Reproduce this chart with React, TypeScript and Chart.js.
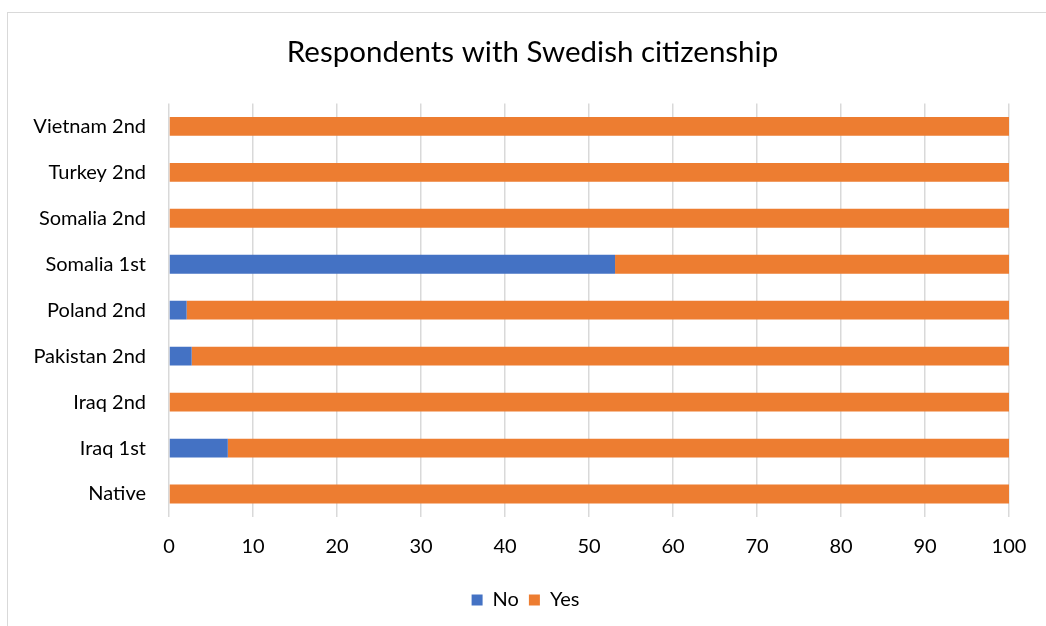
import React, { useEffect, useRef } from "react";
import { Chart, registerables } from "chart.js";

Chart.register(...registerables);

const categories = [
  "Vietnam 2nd",
  "Turkey 2nd",
  "Somalia 2nd",
  "Somalia 1st",
  "Poland 2nd",
  "Pakistan 2nd",
  "Iraq 2nd",
  "Iraq 1st",
  "Native",
];
const noValues = [0, 0, 0, 53.1, 2.1, 2.7, 0, 7.0, 0];
const yesValues = [100, 100, 100, 46.9, 97.9, 97.3, 100, 93.0, 100];
const titleText = "Respondents with Swedish citizenship";

const FONT = "Lato, 'Open Sans', sans-serif";

// Centre title and legend over the whole chart frame (like the original),
// not only over the padded layout area.
const recentre = {
  id: "recentre",
  afterLayout(chart: any) {
    const t = chart.titleBlock;
    if (t) {
      t.left += 24;
      t.right += 24;
    }
    const l = chart.legend;
    if (l) {
      l.left += 17;
      l.right += 17;
    }
  },
};

export default function App() {
  const ref = useRef<HTMLCanvasElement | null>(null);

  useEffect(() => {
    if (!ref.current) return;
    const chart = new Chart(ref.current, {
      type: "bar",
      data: {
        labels: categories,
        datasets: [
          {
            label: "No",
            data: noValues,
            backgroundColor: "#4472C4",
            barPercentage: 0.41,
            categoryPercentage: 1,
          },
          {
            label: "Yes",
            data: yesValues,
            backgroundColor: "#ED7D31",
            barPercentage: 0.41,
            categoryPercentage: 1,
          },
        ],
      },
      plugins: [recentre],
      options: {
        indexAxis: "y",
        animation: false,
        responsive: false,
        maintainAspectRatio: false,
        layout: { padding: { left: 0, right: 39, top: 0, bottom: 31 } },
        plugins: {
          title: {
            display: true,
            text: titleText,
            color: "#000",
            font: { family: FONT, size: 29.5, weight: "normal" },
            padding: { top: 22, bottom: 33 },
          },
          legend: {
            position: "bottom",
            labels: {
              color: "#000",
              font: { family: FONT, size: 20 },
              boxWidth: 11,
              boxHeight: 11,
              padding: 10,
            },
          },
          tooltip: { enabled: false },
        },
        scales: {
          x: {
            stacked: true,
            min: 0,
            max: 100,
            ticks: {
              stepSize: 10,
              color: "#000",
              font: { family: FONT, size: 20 },
              padding: 18,
            },
            grid: { color: "#d9d9d9", lineWidth: 1.5, drawTicks: false },
            border: { display: false },
            afterFit: (scale: any) => {
              scale.height = 63;
            },
          },
          y: {
            stacked: true,
            ticks: {
              color: "#000",
              font: { family: FONT, size: 20 },
              padding: 23,
            },
            grid: { display: false, drawTicks: false },
            border: { display: false },
            afterFit: (scale: any) => {
              scale.width = 161;
            },
          },
        },
      },
    });
    return () => chart.destroy();
  }, []);

  return (
    <div
      style={{
        position: "fixed",
        left: 7,
        top: 12,
        width: 1040,
        height: 638,
        border: "1px solid #d9d9d9",
        background: "#fff",
      }}
    >
      <canvas ref={ref} width={1040} height={638} style={{ display: "block" }} />
    </div>
  );
}
